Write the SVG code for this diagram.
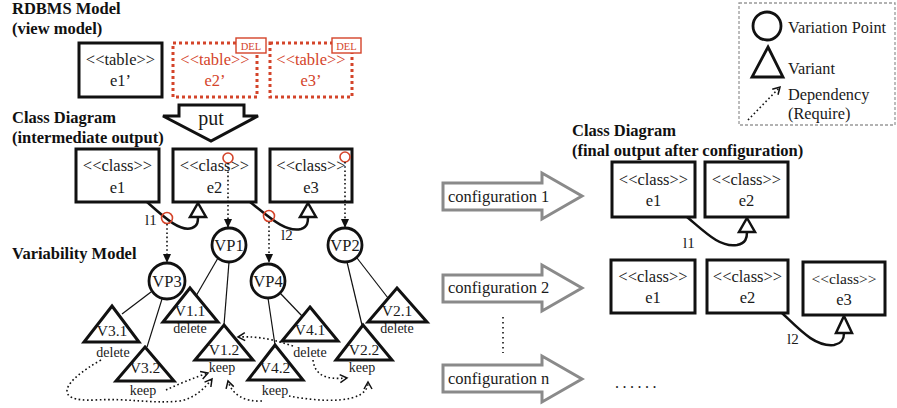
<svg xmlns="http://www.w3.org/2000/svg" width="897" height="408" viewBox="0 0 897 408" font-family="'Liberation Serif', 'Times New Roman', 'DejaVu Serif', serif">
<style>
text{font-family:'Liberation Serif','Times New Roman','DejaVu Serif',serif;fill:#1a1a1a}
.title{font-weight:bold;font-size:16.5px;fill:#111}
.lbl{font-size:16.5px;text-anchor:middle}
.red{fill:#d4442a}
.box{fill:#fff;stroke:#111;stroke-width:3}
.rbox{fill:#fff;stroke:#d4442a;stroke-width:3;stroke-dasharray:3 3}
.del{fill:#fff;stroke:#d4442a;stroke-width:1.4}
.deltxt{font-size:10.5px;text-anchor:middle;fill:#d4442a}
.link{fill:none;stroke:#111;stroke-width:2.5}
.tri{fill:#fff;stroke:#111;stroke-width:2.5;stroke-linejoin:miter}
.var{fill:#fff;stroke:#111;stroke-width:3}
.vp{fill:#fff;stroke:#111;stroke-width:2.8}
.vptxt{font-size:16.5px;text-anchor:middle}
.vtxt{font-size:15.5px;text-anchor:middle}
.small{font-size:14px;text-anchor:middle}
.thin{stroke:#111;stroke-width:1.2;fill:none}
.rc{fill:none;stroke:#d4442a;stroke-width:1.6}
.dot{fill:none;stroke:#111;stroke-width:1.6;stroke-dasharray:1.6 2.6}
.cfg{fill:#fff;stroke:#8a8a8a;stroke-width:3}
.cfgtxt{font-size:16.5px}
.leg{font-size:16.3px}
</style>
<defs>
<marker id="ah" markerWidth="9" markerHeight="8" refX="8" refY="4" orient="auto" markerUnits="userSpaceOnUse">
<path d="M0,0 L9,4 L0,8 z" fill="#111"/>
</marker>
<marker id="vee" markerWidth="10" markerHeight="10" refX="8" refY="5" orient="auto" markerUnits="userSpaceOnUse">
<path d="M1,1 L8,5 L1,9" fill="none" stroke="#111" stroke-width="1.5"/>
</marker>
</defs>

<!-- titles -->
<text class="title" x="12" y="14">RDBMS Model</text>
<text class="title" x="12" y="34">(view model)</text>
<text class="title" x="12" y="123">Class Diagram</text>
<text class="title" x="12" y="143">(intermediate output)</text>
<text class="title" x="12" y="259">Variability Model</text>
<text class="title" x="572" y="136">Class Diagram</text>
<text class="title" x="572" y="156">(final output after configuration)</text>

<!-- RDBMS tables -->
<g id="t_e1p">
<rect class="box" x="79" y="43" width="83" height="54"/>
<text class="lbl" x="120.5" y="65">&lt;&lt;table&gt;&gt;</text>
<text class="lbl" x="120.5" y="86">e1’</text>
</g>
<g id="t_e2p">
<rect class="rbox" x="173" y="43" width="84" height="54"/>
<text class="lbl red" x="215" y="65">&lt;&lt;table&gt;&gt;</text>
<text class="lbl red" x="215" y="86">e2’</text>
<rect class="del" x="236" y="38" width="30" height="15"/>
<text class="deltxt" x="251" y="49.5">DEL</text>
</g>
<g id="t_e3p">
<rect class="rbox" x="270" y="43" width="82" height="54"/>
<text class="lbl red" x="311" y="65">&lt;&lt;table&gt;&gt;</text>
<text class="lbl red" x="311" y="86">e3’</text>
<rect class="del" x="332" y="38" width="29" height="15"/>
<text class="deltxt" x="346.5" y="49.5">DEL</text>
</g>

<!-- put arrow -->
<g id="put">
<polygon points="179,105 244,105 244,116 258,116 211,141 163,116 179,116" fill="#fff" stroke="#111" stroke-width="3" stroke-linejoin="miter"/>
<text x="211" y="125" style="font-size:20px;text-anchor:middle">put</text>
</g>

<!-- intermediate class diagram -->
<g id="c_e1">
<rect class="box" x="76" y="149" width="83" height="53"/>
<text class="lbl" x="117.5" y="171">&lt;&lt;class&gt;&gt;</text>
<text class="lbl" x="117.5" y="193">e1</text>
</g>
<g id="c_e2">
<rect class="box" x="173" y="149" width="83" height="53"/>
<text class="lbl" x="214.5" y="171">&lt;&lt;class&gt;&gt;</text>
<text class="lbl" x="214.5" y="193">e2</text>
</g>
<g id="c_e3">
<rect class="box" x="270" y="149" width="82" height="53"/>
<text class="lbl" x="311" y="171">&lt;&lt;class&gt;&gt;</text>
<text class="lbl" x="311" y="193">e3</text>
</g>

<!-- variation points -->
<g id="VP1"><circle class="vp" cx="229" cy="245" r="17"/><text class="vptxt" x="229" y="251">VP1</text></g>
<g id="VP2"><circle class="vp" cx="345" cy="245" r="17"/><text class="vptxt" x="345" y="251">VP2</text></g>
<g id="VP3"><circle class="vp" cx="167" cy="281" r="18"/><text class="vptxt" x="167" y="287">VP3</text></g>
<g id="VP4"><circle class="vp" cx="268" cy="281" r="17"/><text class="vptxt" x="268" y="287">VP4</text></g>

<!-- connectors -->
<g id="connectors">
<path class="link" d="M147,202 C165,218 180,232 192,228 C198,226 198,221 198,217"/>
<polygon class="tri" points="198,203 206,217 190,217"/>
<text x="145" y="225" style="font-size:15px">l1</text>
<path class="link" d="M250,202 C268,216 285,233 301,229 C308,227 308,221 308,217"/>
<polygon class="tri" points="308,203 316,217 300,217"/>
<text x="281" y="240" style="font-size:15px">l2</text>

<circle class="rc" cx="228" cy="158" r="5"/>
<circle class="rc" cx="345" cy="157" r="5"/>
<circle class="rc" cx="167" cy="218" r="5.5"/>
<circle class="rc" cx="269" cy="216" r="5.5"/>
<path class="dot" d="M228,163 L228,227" marker-end="url(#ah)"/>
<path class="dot" d="M345,162 L345,227" marker-end="url(#ah)"/>
<path class="dot" d="M167,224 L167,262" marker-end="url(#ah)"/>
<path class="dot" d="M269,222 L269,262" marker-end="url(#ah)"/>

<line class="thin" x1="151" y1="292" x2="122" y2="314"/>
<line class="thin" x1="162" y1="299" x2="147" y2="347"/>
<line class="thin" x1="218" y1="258" x2="196" y2="296"/>
<line class="thin" x1="229" y1="262" x2="224" y2="325"/>
<line class="thin" x1="280" y1="293" x2="302" y2="316"/>
<line class="thin" x1="268" y1="298" x2="275" y2="345"/>
<line class="thin" x1="357" y1="258" x2="388" y2="298"/>
<line class="thin" x1="347" y1="262" x2="362" y2="325"/>

<path class="dot" d="M101,360 C62,382 52,402 95,400 C130,398 150,404 180,401 C195,398 205,388 212,379" marker-end="url(#vee)"/>
<path class="dot" d="M166,390 Q185,381 208,373" marker-end="url(#vee)"/>
<path class="dot" d="M262,401 C245,402 232,395 228,381" marker-end="url(#vee)"/>
<path class="dot" d="M289,396 C320,402 368,405 368,382" marker-end="url(#vee)"/>
<path class="dot" d="M293,346 C275,340 260,336 238,337" marker-end="url(#vee)"/>
<path class="dot" d="M313,360 C315,375 325,380 347,378" marker-end="url(#vee)"/>

<path class="link" d="M687,217 C705,232 720,248 737,245 C746,243 747,238 747,232"/>
<polygon class="tri" points="747,218 755,232 739,232"/>
<text x="683" y="248" style="font-size:15px">l1</text>
<path class="link" d="M782,313 C800,330 815,347 834,345 C843,343 844,338 844,333"/>
<polygon class="tri" points="844,316 852,333 836,333"/>
<text x="787" y="344" style="font-size:15px">l2</text>
</g>

<!-- variants -->
<g id="V3_1"><polygon class="var" points="112,306 139,342 84,342"/><text class="vtxt" x="112" y="336">V3.1</text><text class="small" x="113" y="357">delete</text></g>
<g id="V3_2"><polygon class="var" points="145,347 174,381 116,381"/><text class="vtxt" x="145" y="373">V3.2</text><text class="small" x="143" y="395">keep</text></g>
<g id="V1_1"><polygon class="var" points="190,288 218,322 163,322"/><text class="vtxt" x="190" y="316">V1.1</text><text class="small" x="190" y="333">delete</text></g>
<g id="V1_2"><polygon class="var" points="224,325 253,360 195,360"/><text class="vtxt" x="224" y="355">V1.2</text><text class="small" x="222" y="372">keep</text></g>
<g id="V4_1"><polygon class="var" points="310,307 338,341 282,341"/><text class="vtxt" x="310" y="335">V4.1</text><text class="small" x="310" y="357">delete</text></g>
<g id="V4_2"><polygon class="var" points="275,345 303,380 248,380"/><text class="vtxt" x="275" y="373">V4.2</text><text class="small" x="275" y="395">keep</text></g>
<g id="V2_1"><polygon class="var" points="397,288 427,322 368,322"/><text class="vtxt" x="397" y="316">V2.1</text><text class="small" x="397" y="333">delete</text></g>
<g id="V2_2"><polygon class="var" points="363,325 392,360 336,360"/><text class="vtxt" x="364" y="355">V2.2</text><text class="small" x="362" y="372">keep</text></g>

<!-- legend -->
<g id="legend">
<rect x="739" y="3" width="156" height="122" fill="none" stroke="#999" stroke-width="1.3" stroke-dasharray="3 2"/>
<circle cx="767" cy="26" r="14" fill="#fff" stroke="#111" stroke-width="2.8"/>
<text class="leg" x="788" y="33">Variation Point</text>
<polygon points="768,47 783,77 752,77" fill="#fff" stroke="#111" stroke-width="2.8"/>
<text class="leg" x="788" y="74">Variant</text>
<path class="dot" d="M748,120 L780,87" marker-end="url(#vee)"/>
<text class="leg" x="788" y="100">Dependency</text>
<text class="leg" x="788" y="119">(Require)</text>
</g>

<!-- configuration arrows -->
<g id="cfg1"><polygon class="cfg" points="443,183 542,183 542,173 582,196 542,219 542,210 443,210"/><text class="cfgtxt" x="448" y="202">configuration 1</text></g>
<g id="cfg2"><polygon class="cfg" points="443,275 542,275 542,265 582,288 542,311 542,302 443,302"/><text class="cfgtxt" x="448" y="293">configuration 2</text></g>
<g id="cfgn"><polygon class="cfg" points="443,365 542,365 542,356 582,379 542,402 542,392 443,392"/><text class="cfgtxt" x="448" y="384">configuration n</text></g>
<line x1="503" y1="317" x2="503" y2="353" stroke="#111" stroke-width="1.6" stroke-dasharray="1.6 3.4"/>

<g id="f1_e1"><rect class="box" x="612" y="162" width="83" height="55"/><text class="lbl" x="653.5" y="185">&lt;&lt;class&gt;&gt;</text><text class="lbl" x="653.5" y="206">e1</text></g>
<g id="f1_e2"><rect class="box" x="705" y="162" width="83" height="55"/><text class="lbl" x="746.5" y="185">&lt;&lt;class&gt;&gt;</text><text class="lbl" x="746.5" y="206">e2</text></g>

<g id="f2_e1"><rect class="box" x="611" y="260" width="84" height="53"/><text class="lbl" x="653" y="282">&lt;&lt;class&gt;&gt;</text><text class="lbl" x="653" y="303">e1</text></g>
<g id="f2_e2"><rect class="box" x="707" y="260" width="81" height="53"/><text class="lbl" x="747.5" y="282">&lt;&lt;class&gt;&gt;</text><text class="lbl" x="747.5" y="303">e2</text></g>
<g id="f2_e3"><rect class="box" x="803" y="262" width="82" height="53"/><text class="lbl" x="844" y="284" style="font-size:15.5px">&lt;&lt;class&gt;&gt;</text><text class="lbl" x="844" y="305">e3</text></g>

<text x="615" y="388" style="font-size:16px;letter-spacing:3.5px">......</text>
</svg>
